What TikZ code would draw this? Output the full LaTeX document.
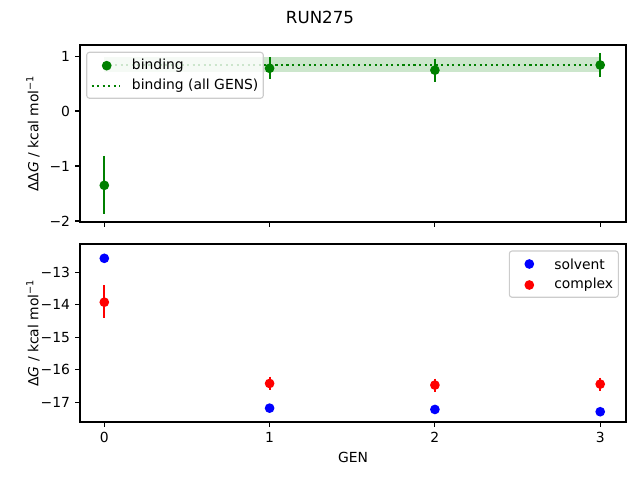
\documentclass[tikz,border=0pt]{standalone}
\usepackage{fontspec}
\setmainfont{DejaVu Sans}
\definecolor{mplgreen}{HTML}{008000}
\definecolor{mplblue}{HTML}{0000FF}
\definecolor{mplred}{HTML}{FF0000}
\definecolor{legframe}{HTML}{CCCCCC}
\tikzset{
	spine/.style={line width=0.8bp},
	dot/.style={circle, inner sep=0pt, minimum size=7bp, fill=#1},
	errbar/.style={line width=1.5bp, draw=#1},
	lab/.style={font=\fontsize{10bp}{12bp}\selectfont, inner sep=0pt},
	legbox/.style={draw=legframe, fill=white, fill opacity=0.8, rounded corners=2bp, line width=0.8bp},
	allgens/.style={mplgreen, line width=1.5bp, dash pattern=on 1.5bp off 2.475bp}
}
\begin{document}
\begin{tikzpicture}[x=0.72bp, y=-0.72bp]
		\useasboundingbox (0,0) rectangle (640,480);
		% top panel: binding
		\begin{scope}[shift={(104.3,111)}, xscale=165.3, yscale=-54.8]
			\fill[mplgreen, opacity=0.2] (0,0.705) rectangle (3,0.985);
			\draw[allgens] (0,0.845) -- (3,0.845);
			\draw[errbar=mplgreen] (0,-0.82) -- (0,-1.88);
			\draw[errbar=mplgreen] (1,0.98) -- (1,0.58);
			\draw[errbar=mplgreen] (2,0.955) -- (2,0.535);
			\draw[errbar=mplgreen] (3,1.06) -- (3,0.62);
			\node[dot=mplgreen] (b0) at (0,-1.356) {};
			\node[dot=mplgreen] (b1) at (1,0.779) {};
			\node[dot=mplgreen] (b2) at (2,0.745) {};
			\node[dot=mplgreen] (b3) at (3,0.839) {};
		\end{scope}
		\draw[spine] (80,45) rectangle (626,222);
		\foreach \gx in {104.3,269.6,434.9,600.2}
			\draw[spine] (\gx,222) -- (\gx,226.9);
		\foreach \ty/\tl in {56.7/1,111/0,166/−1,221/−2} {
			\draw[spine] (80,\ty) -- (75.1,\ty);
			\node[lab, anchor=east] at (70.3,\ty) {\tl};
		}
		\node[lab, rotate=90] (ylabtop) at (33,133.5) {ΔΔ\textit{G} / kcal mol\textsuperscript{−1}};
		% legend top
		\draw[legbox] (86.7,52.3) rectangle (263.3,98.3);
		\node[dot=mplgreen] (legb) at (106.7,65.7) {};
		\node[lab, anchor=west] (legbt) at (131.7,65.7) {binding};
		\draw[allgens] (91.7,85.7) -- (119.5,85.7);
		\node[lab, anchor=west] (legat) at (131.7,85.7) {binding (all GENS)};
		% bottom panel: legs
		\begin{scope}[shift={(104.3,-150.2)}, xscale=165.3, yscale=-32.5]
			\draw[errbar=mplblue] (0,-12.52) -- (0,-12.62);
			\draw[errbar=mplred] (0,-13.40) -- (0,-14.40);
			\draw[errbar=mplred] (1,-16.21) -- (1,-16.61);
			\draw[errbar=mplred] (2,-16.27) -- (2,-16.67);
			\draw[errbar=mplred] (3,-16.24) -- (3,-16.64);
			\node[dot=mplblue] (s0) at (0,-12.57) {};
			\node[dot=mplblue] (s1) at (1,-17.18) {};
			\node[dot=mplblue] (s2) at (2,-17.22) {};
			\node[dot=mplblue] (s3) at (3,-17.29) {};
			\node[dot=mplred] (c0) at (0,-13.92) {};
			\node[dot=mplred] (c1) at (1,-16.42) {};
			\node[dot=mplred] (c2) at (2,-16.47) {};
			\node[dot=mplred] (c3) at (3,-16.44) {};
		\end{scope}
		\draw[spine] (80,244) rectangle (626,422);
		\foreach \gx/\gl in {104.3/0,269.6/1,434.9/2,600.2/3} {
			\draw[spine] (\gx,422) -- (\gx,426.9);
			\node[lab, anchor=north] at (\gx,431.8) {\gl};
		}
		\foreach \ty/\tl in {272.3/−13,304.8/−14,337.3/−15,369.8/−16,402.3/−17} {
			\draw[spine] (80,\ty) -- (75.1,\ty);
			\node[lab, anchor=east] at (70.3,\ty) {\tl};
		}
		\node[lab, rotate=90] (ylabbot) at (33,333) {Δ\textit{G} / kcal mol\textsuperscript{−1}};
		\node[lab] (xlab) at (353,457) {GEN};
		% legend bottom
		\draw[legbox] (509.3,251) rectangle (618.3,297.3);
		\node[dot=mplblue] (legs) at (529.3,264) {};
		\node[lab, anchor=west] (legst) at (554,264) {solvent};
		\node[dot=mplred] (legc) at (529.3,285) {};
		\node[lab, anchor=west] (legct) at (554,285) {complex};
		\node[font=\fontsize{12bp}{14bp}\selectfont, inner sep=0pt] (title) at (320,17) {RUN275};
	\end{tikzpicture}
\end{document}
